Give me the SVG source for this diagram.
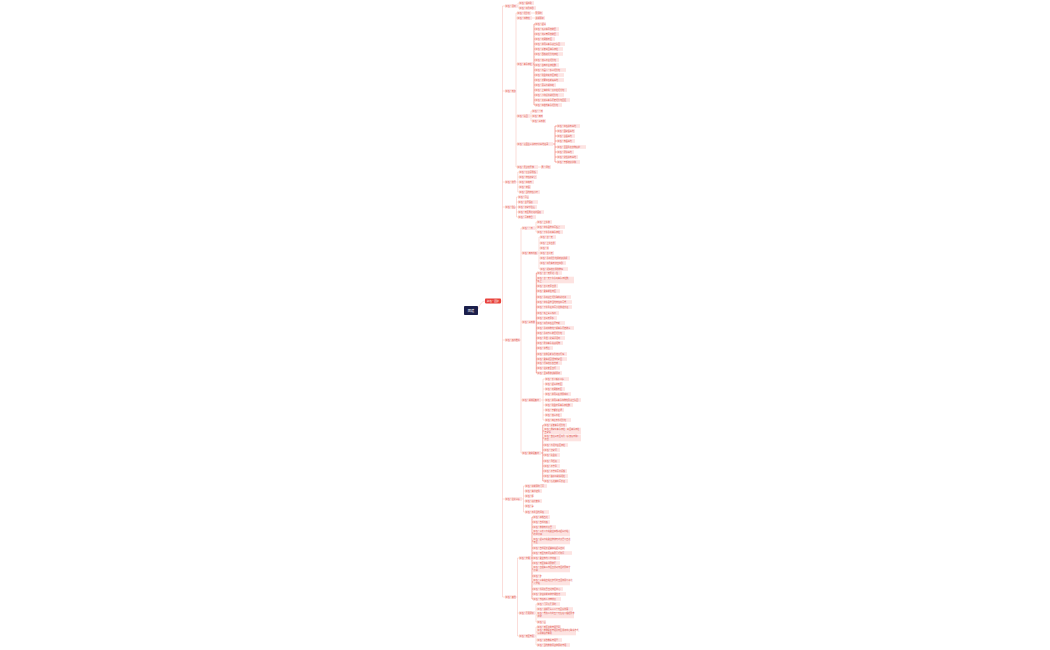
<svg xmlns="http://www.w3.org/2000/svg" width="1050" height="650" viewBox="0 0 1050 650">
<style>
rect{fill:#fde3e1}
text{font-family:"Noto Sans CJK SC","Noto Sans",sans-serif;font-size:2.05px;fill:#e0544c}
.c{fill:none;stroke:#f5b3ad;stroke-width:0.45}
.d{fill:none;stroke:#e8544b;stroke-width:0.5}
rect.root{fill:#1b1f4b}
rect.main{fill:#e8413a}
text.w{fill:#ffffff}
</style>
<rect width="1050" height="650" fill="#ffffff" style="fill:#ffffff"/>
<g id="connectors">
<path class="c" d="M478,309Q481,301 485,301M501,301H502.5M502.5,6V597M502.5,6H505M502.5,91H505M502.5,182H505M502.5,207H505M502.5,340H505M502.5,499H505M502.5,597H505"/>
<path class="c" d="M517,6H518M518,3V8M518,3H519M518,8H519"/>
<path class="c" d="M515,91H516M516,13V167M516,13H517M516,18H517M516,64H517M516,116H517M516,144H517M516,167H517M531,13H535M532,18H535M538,167H541"/>
<path class="d" d="M533,64H534M534,24V105M534,24H535M534,29H535M534,34H535M534,39H535M534,44H535M534,49H535M534,54H535M534,60H535M534,65H535M534,70H535M534,75H535M534,80H535M534,85H535M534,90H535M534,95H535M534,100H535M534,105H535"/>
<path class="c" d="M530,116H531M531,111V121M531,111H532M531,116H532M531,121H532"/>
<path class="d" d="M553,144H555M555,126V162M555,126H557M555,131H557M555,136H557M555,141H557M555,147H557M555,152H557M555,157H557M555,162H557"/>
<path class="c" d="M516,182H517.8M517.8,172V192M517.8,172H519M517.8,177H519M517.8,182H519M517.8,187H519M517.8,192H519"/>
<path class="c" d="M515,207H516.5M516.5,197V217M516.5,197H518M516.5,202H518M516.5,207H518M516.5,212H518M516.5,217H518"/>
<path class="c" d="M520,340H521M521,228V453M521,228H522M521,253H522M521,322H522M521,400H522M521,453H522"/>
<path class="c" d="M535,228H536M536,222V232M536,222H537M536,227H537M536,232H537"/>
<path class="c" d="M538,253H539M539,237V269M539,237H540M539,243H540M539,248H540M539,253H540M539,258H540M539,263H540M539,269H540"/>
<path class="d" d="M535.7,322H536.3M536.3,273V373M536.3,273H537M536.3,280H537M536.3,286H537M536.3,291H537M536.3,297H537M536.3,302H537M536.3,307H537M536.3,313H537M536.3,318H537M536.3,323H537M536.3,328H537M536.3,333H537M536.3,338H537M536.3,343H537M536.3,348H537M536.3,354H537M536.3,359H537M536.3,363H537M536.3,368H537M536.3,373H537"/>
<path class="c" d="M541,400H543M543,379V420M543,379H545M543,384H545M543,389H545M543,394H545M543,400H545M543,405H545M543,410H545M543,415H545M543,420H545"/>
<path class="d" d="M541,453H542.8M542.8,425V481M542.8,425H544M542.8,431H544M542.8,438H544M542.8,445H544M542.8,450H544M542.8,455H544M542.8,461H544M542.8,466H544M542.8,471H544M542.8,476H544M542.8,481H544"/>
<path class="c" d="M522,499H523.5M523.5,486V512M523.5,486H525M523.5,491H525M523.5,496H525M523.5,501H525M523.5,506H525M523.5,512H525"/>
<path class="c" d="M516,597H517.5M517.5,558V636M517.5,558H519M517.5,613H519M517.5,636H519"/>
<path class="d" d="M531,558H532M532,517V599M532,517H533M532,522H533M532,527H533M532,533H533M532,541H533M532,548H533M532,553H533M532,558H533M532,563H533M532,569H533M532,576H533M532,582H533M532,589H533M532,594H533M532,599H533"/>
<path class="c" d="M535,613H536M536,604V622M536,604H537M536,609H537M536,615H537M536,622H537"/>
<path class="c" d="M535,636H536M536,627V645M536,627H537M536,632H537M536,640H537M536,645H537"/>
</g>
<g id="root"><rect class="root" x="464" y="306" width="14" height="9" rx="0.8"/><text class="w" x="471" y="311.6" text-anchor="middle" style="font-size:3.2px">团建</text></g>
<g id="main"><rect class="main" x="485" y="298.6" width="16" height="4.8" rx="0.8"/><text class="w" x="493" y="302.1" text-anchor="middle" style="font-size:2.4px">红色·团建</text></g>
<g id="nA"><rect x="505" y="4.2" width="12" height="3.6"/><text x="505.6" y="6.8">红色·活动</text></g>
<g id="nA1"><rect x="519" y="1.2" width="15" height="3.6"/><text x="519.6" y="3.8">红色·唱红歌</text></g>
<g id="nA2"><rect x="519" y="6.2" width="17" height="3.6"/><text x="519.6" y="8.8">红色·观看红剧</text></g>
<g id="nB"><rect x="505" y="89.2" width="10" height="3.6"/><text x="505.6" y="91.8">红色·景点</text></g>
<g id="nB1"><rect x="517" y="11.2" width="14" height="3.6"/><text x="517.6" y="13.8">红色·纪念馆</text></g>
<g id="nB1a"><rect x="535" y="11.2" width="8" height="3.6"/><text x="535.6" y="13.8">需预约</text></g>
<g id="nB2"><rect x="517" y="16.2" width="15" height="3.6"/><text x="517.6" y="18.8">红色·博物馆</text></g>
<g id="nB2a"><rect x="535" y="16.2" width="10" height="3.6"/><text x="535.6" y="18.8">讲解服务</text></g>
<g id="nB3"><rect x="517" y="62.2" width="16" height="3.6"/><text x="517.6" y="64.8">红色·革命旧址</text></g>
<g id="nB3-1"><rect x="535" y="22.2" width="11" height="3.6"/><text x="535.6" y="24.8">红色·韶山</text></g>
<g id="nB3-2"><rect x="535" y="27.2" width="24" height="3.6"/><text x="535.6" y="29.8">红色·毛泽东同志故居</text></g>
<g id="nB3-3"><rect x="535" y="32.2" width="24" height="3.6"/><text x="535.6" y="34.8">红色·刘少奇同志故居</text></g>
<g id="nB3-4"><rect x="535" y="37.2" width="20" height="3.6"/><text x="535.6" y="39.8">红色·花明楼景区</text></g>
<g id="nB3-5"><rect x="535" y="42.2" width="30" height="3.6"/><text x="535.6" y="44.8">红色·井冈山革命烈士陵园</text></g>
<g id="nB3-6"><rect x="535" y="47.2" width="28" height="3.6"/><text x="535.6" y="49.8">红色·延安枣园革命旧址</text></g>
<g id="nB3-7"><rect x="535" y="52.2" width="28" height="3.6"/><text x="535.6" y="54.8">红色·西柏坡纪念馆旧址</text></g>
<g id="nB3-8"><rect x="535" y="58.2" width="24" height="3.6"/><text x="535.6" y="60.8">红色·遵义会议纪念馆</text></g>
<g id="nB3-9"><rect x="535" y="63.2" width="24" height="3.6"/><text x="535.6" y="65.8">红色·古田会议旧址群</text></g>
<g id="nB3-10"><rect x="535" y="68.2" width="31" height="3.6"/><text x="535.6" y="70.8">红色·南昌八一起义纪念馆</text></g>
<g id="nB3-11"><rect x="535" y="73.2" width="29" height="3.6"/><text x="535.6" y="75.8">红色·瑞金中央苏区旧址</text></g>
<g id="nB3-12"><rect x="535" y="78.2" width="29" height="3.6"/><text x="535.6" y="80.8">红色·沂蒙红色影视基地</text></g>
<g id="nB3-13"><rect x="535" y="83.2" width="21" height="3.6"/><text x="535.6" y="85.8">红色·嘉兴南湖红船</text></g>
<g id="nB3-14"><rect x="535" y="88.2" width="32" height="3.6"/><text x="535.6" y="90.8">红色·上海中共一大会址纪念馆</text></g>
<g id="nB3-15"><rect x="535" y="93.2" width="29" height="3.6"/><text x="535.6" y="95.8">红色·卢沟桥抗战纪念馆</text></g>
<g id="nB3-16"><rect x="535" y="98.2" width="35" height="3.6"/><text x="535.6" y="100.8">红色·大别山革命历史纪念馆园区</text></g>
<g id="nB3-17"><rect x="535" y="103.2" width="27" height="3.6"/><text x="535.6" y="105.8">红色·红岩村革命纪念馆</text></g>
<g id="nB4"><rect x="517" y="114.2" width="13" height="3.6"/><text x="517.6" y="116.8">红色·陵园</text></g>
<g id="nB4-1"><rect x="532" y="109.2" width="11" height="3.6"/><text x="532.6" y="111.8">红色·一日</text></g>
<g id="nB4-2"><rect x="532" y="114.2" width="11" height="3.6"/><text x="532.6" y="116.8">红色·两日</text></g>
<g id="nB4-3"><rect x="532" y="119.2" width="14" height="3.6"/><text x="532.6" y="121.8">红色·三日游</text></g>
<g id="nB5"><rect x="517" y="142.2" width="36" height="3.6"/><text x="517.6" y="144.8">红色·爱国主义教育示范基地名录</text></g>
<g id="nB5-1"><rect x="557" y="124.2" width="23" height="3.6"/><text x="557.6" y="126.8">红色·红色教育基地</text></g>
<g id="nB5-2"><rect x="557" y="129.2" width="18" height="3.6"/><text x="557.6" y="131.8">红色·国家级基地</text></g>
<g id="nB5-3"><rect x="557" y="134.2" width="18" height="3.6"/><text x="557.6" y="136.8">红色·省级基地</text></g>
<g id="nB5-4"><rect x="557" y="139.2" width="18" height="3.6"/><text x="557.6" y="141.8">红色·市级基地</text></g>
<g id="nB5-5"><rect x="557" y="145.2" width="29" height="3.6"/><text x="557.6" y="147.8">红色·全国重点文物保护</text></g>
<g id="nB5-6"><rect x="557" y="150.2" width="17" height="3.6"/><text x="557.6" y="152.8">红色·研学基地</text></g>
<g id="nB5-7"><rect x="557" y="155.2" width="21" height="3.6"/><text x="557.6" y="157.8">红色·党性教育基地</text></g>
<g id="nB5-8"><rect x="557" y="160.2" width="23" height="3.6"/><text x="557.6" y="162.8">红色·干部培训学院</text></g>
<g id="nB6"><rect x="517" y="165.2" width="21" height="3.6"/><text x="517.6" y="167.8">红色·展览馆开放</text></g>
<g id="nB6a"><rect x="541" y="165.2" width="10" height="3.6"/><text x="541.6" y="167.8">周一闭馆</text></g>
<g id="nC"><rect x="505" y="180.2" width="11" height="3.6"/><text x="505.6" y="182.8">红色·饮食</text></g>
<g id="nC1"><rect x="519" y="170.2" width="19" height="3.6"/><text x="519.6" y="172.8">红色·忆苦思甜饭</text></g>
<g id="nC2"><rect x="519" y="175.2" width="18" height="3.6"/><text x="519.6" y="177.8">红色·特色农家菜</text></g>
<g id="nC3"><rect x="519" y="180.2" width="15" height="3.6"/><text x="519.6" y="182.8">红色·红烧肉</text></g>
<g id="nC4"><rect x="519" y="185.2" width="12" height="3.6"/><text x="519.6" y="187.8">红色·米酒</text></g>
<g id="nC5"><rect x="519" y="190.2" width="21" height="3.6"/><text x="519.6" y="192.8">红色·当地特色小吃</text></g>
<g id="nD"><rect x="505" y="205.2" width="10" height="3.6"/><text x="505.6" y="207.8">红色·住宿</text></g>
<g id="nD1"><rect x="518" y="195.2" width="11" height="3.6"/><text x="518.6" y="197.8">红色·民宿</text></g>
<g id="nD2"><rect x="518" y="200.2" width="20" height="3.6"/><text x="518.6" y="202.8">红色·主题酒店</text></g>
<g id="nD3"><rect x="518" y="205.2" width="19" height="3.6"/><text x="518.6" y="207.8">红色·农家乐住宿</text></g>
<g id="nD4"><rect x="518" y="210.2" width="26" height="3.6"/><text x="518.6" y="212.8">红色·景区周边连锁酒店</text></g>
<g id="nD5"><rect x="518" y="215.2" width="18" height="3.6"/><text x="518.6" y="217.8">红色·青年旅舍</text></g>
<g id="nE"><rect x="505" y="338.2" width="15" height="3.6"/><text x="505.6" y="340.8">红色·路线推荐</text></g>
<g id="nE1"><rect x="522" y="226.2" width="13" height="3.6"/><text x="522.6" y="228.8">红色·一日</text></g>
<g id="nE1-1"><rect x="537" y="220.2" width="15" height="3.6"/><text x="537.6" y="222.8">红色·上午游</text></g>
<g id="nE1-2"><rect x="537" y="225.2" width="28" height="3.6"/><text x="537.6" y="227.8">红色·中午品尝红军饭菜</text></g>
<g id="nE1-3"><rect x="537" y="230.2" width="26" height="3.6"/><text x="537.6" y="232.8">红色·下午参观革命旧址</text></g>
<g id="nE2"><rect x="522" y="251.2" width="16" height="3.6"/><text x="522.6" y="253.8">红色·两日线路</text></g>
<g id="nE2-1"><rect x="540" y="235.2" width="16" height="3.6"/><text x="540.6" y="237.8">红色·第一天</text></g>
<g id="nE2-2"><rect x="540" y="241.2" width="16" height="3.6"/><text x="540.6" y="243.8">红色·上午出发</text></g>
<g id="nE2-3"><rect x="540" y="246.2" width="9" height="3.6"/><text x="540.6" y="248.8">红色·午</text></g>
<g id="nE2-4"><rect x="540" y="251.2" width="14" height="3.6"/><text x="540.6" y="253.8">红色·第二天</text></g>
<g id="nE2-5"><rect x="540" y="256.2" width="30" height="3.6"/><text x="540.6" y="258.8">红色·参观纪念馆并听取讲解</text></g>
<g id="nE2-6"><rect x="540" y="261.2" width="26" height="3.6"/><text x="540.6" y="263.8">红色·观看实景演出红剧</text></g>
<g id="nE2-7"><rect x="540" y="267.2" width="28" height="3.6"/><text x="540.6" y="269.8">红色·返程结束愉快旅程</text></g>
<g id="nE3"><rect x="522" y="320.2" width="13.7" height="3.6"/><text x="522.6" y="322.8">红色·三日游</text></g>
<g id="nE3-1"><rect x="537" y="271.2" width="25" height="3.6"/><text x="537.6" y="273.8">红色·第一天抵达入住</text></g>
<g id="nE3-2"><rect x="537" y="276.7" width="37" height="6.6"/><text x="537.6" y="279.4">红色·第一天下午参观革命旧址群，<tspan x="537.6" y="282.2">晚上</tspan></text></g>
<g id="nE3-3"><rect x="537" y="284.2" width="21" height="3.6"/><text x="537.6" y="286.8">红色·第二天早出发</text></g>
<g id="nE3-4"><rect x="537" y="289.2" width="23" height="3.6"/><text x="537.6" y="291.8">红色·乘车前往景区</text></g>
<g id="nE3-5"><rect x="537" y="295.2" width="34" height="3.6"/><text x="537.6" y="297.8">红色·参观烈士纪念碑敬献花篮</text></g>
<g id="nE3-6"><rect x="537" y="300.2" width="35" height="3.6"/><text x="537.6" y="302.8">红色·中午品尝当地特色红军餐</text></g>
<g id="nE3-7"><rect x="537" y="305.2" width="35" height="3.6"/><text x="537.6" y="307.8">红色·下午重走红军小道体验长征</text></g>
<g id="nE3-8"><rect x="537" y="311.2" width="22" height="3.6"/><text x="537.6" y="313.8">红色·晚上篝火晚会</text></g>
<g id="nE3-9"><rect x="537" y="316.2" width="20" height="3.6"/><text x="537.6" y="318.8">红色·第三天早起</text></g>
<g id="nE3-10"><rect x="537" y="321.2" width="28" height="3.6"/><text x="537.6" y="323.8">红色·观看红色主题电影</text></g>
<g id="nE3-11"><rect x="537" y="326.2" width="37" height="3.6"/><text x="537.6" y="328.8">红色·参观博物馆了解革命历史故事</text></g>
<g id="nE3-12"><rect x="537" y="331.2" width="28" height="3.6"/><text x="537.6" y="333.8">红色·参观伟人故居纪念馆</text></g>
<g id="nE3-13"><rect x="537" y="336.2" width="28" height="3.6"/><text x="537.6" y="338.8">红色·重温入党誓词活动</text></g>
<g id="nE3-14"><rect x="537" y="341.2" width="26" height="3.6"/><text x="537.6" y="343.8">红色·瞻仰革命先烈遗物</text></g>
<g id="nE3-15"><rect x="537" y="346.2" width="16" height="3.6"/><text x="537.6" y="348.8">红色·午餐后</text></g>
<g id="nE3-16"><rect x="537" y="352.2" width="30" height="3.6"/><text x="537.6" y="354.8">红色·集体合影留念结束行程</text></g>
<g id="nE3-17"><rect x="537" y="357.2" width="30" height="3.6"/><text x="537.6" y="359.8">红色·乘车返回温馨的家园</text></g>
<g id="nE3-18"><rect x="537" y="361.2" width="25" height="3.6"/><text x="537.6" y="363.8">红色·行程结束各自散</text></g>
<g id="nE3-19"><rect x="537" y="366.2" width="23" height="3.6"/><text x="537.6" y="368.8">红色·注意安全出行</text></g>
<g id="nE3-20"><rect x="537" y="371.2" width="25" height="3.6"/><text x="537.6" y="373.8">红色·全程导游讲解服务</text></g>
<g id="nE4"><rect x="522" y="398.2" width="19" height="3.6"/><text x="522.6" y="400.8">红色·湖湘经典线</text></g>
<g id="nE4-1"><rect x="545" y="377.2" width="24" height="3.6"/><text x="545.6" y="379.8">红色·长沙橘子洲头</text></g>
<g id="nE4-2"><rect x="545" y="382.2" width="18" height="3.6"/><text x="545.6" y="384.8">红色·韶山冲景区</text></g>
<g id="nE4-3"><rect x="545" y="387.2" width="20" height="3.6"/><text x="545.6" y="389.8">红色·花明楼景区</text></g>
<g id="nE4-4"><rect x="545" y="392.2" width="26" height="3.6"/><text x="545.6" y="394.8">红色·井冈山黄洋界哨口</text></g>
<g id="nE4-5"><rect x="545" y="398.2" width="36" height="3.6"/><text x="545.6" y="400.8">红色·井冈山革命博物馆及烈士陵园</text></g>
<g id="nE4-6"><rect x="545" y="403.2" width="28" height="3.6"/><text x="545.6" y="405.8">红色·瑞金叶坪革命旧址群</text></g>
<g id="nE4-7"><rect x="545" y="408.2" width="19" height="3.6"/><text x="545.6" y="410.8">红色·于都长征源</text></g>
<g id="nE4-8"><rect x="545" y="413.2" width="17" height="3.6"/><text x="545.6" y="415.8">红色·遵义会址</text></g>
<g id="nE4-9"><rect x="545" y="418.2" width="26" height="3.6"/><text x="545.6" y="420.8">红色·四渡赤水纪念馆</text></g>
<g id="nE5"><rect x="522" y="451.2" width="19" height="3.6"/><text x="522.6" y="453.8">红色·陕甘经典线</text></g>
<g id="nE5-1"><rect x="544" y="423.2" width="23" height="3.6"/><text x="544.6" y="425.8">红色·延安革命纪念馆</text></g>
<g id="nE5-2"><rect x="544" y="427.7" width="37" height="6.6"/><text x="544.6" y="430.4">红色·杨家岭革命旧址、枣园革命旧址、<tspan x="544.6" y="433.2">王家坪</tspan></text></g>
<g id="nE5-3"><rect x="544" y="434.7" width="37" height="6.6"/><text x="544.6" y="437.4">红色·宝塔山景区观看《延安保育院》<tspan x="544.6" y="440.2">演出</tspan></text></g>
<g id="nE5-4"><rect x="544" y="443.2" width="24" height="3.6"/><text x="544.6" y="445.8">红色·南泥湾垦区旧址</text></g>
<g id="nE5-5"><rect x="544" y="448.2" width="16" height="3.6"/><text x="544.6" y="450.8">红色·梁家河</text></g>
<g id="nE5-6"><rect x="544" y="453.2" width="16" height="3.6"/><text x="544.6" y="455.8">红色·照金镇</text></g>
<g id="nE5-7"><rect x="544" y="459.2" width="16" height="3.6"/><text x="544.6" y="461.8">红色·马栏镇</text></g>
<g id="nE5-8"><rect x="544" y="464.2" width="16" height="3.6"/><text x="544.6" y="466.8">红色·会宁县</text></g>
<g id="nE5-9"><rect x="544" y="469.2" width="23" height="3.6"/><text x="544.6" y="471.8">红色·会宁红军会师楼</text></g>
<g id="nE5-10"><rect x="544" y="474.2" width="24" height="3.6"/><text x="544.6" y="476.8">红色·腊子口战役遗址</text></g>
<g id="nE5-11"><rect x="544" y="479.2" width="24" height="3.6"/><text x="544.6" y="481.8">红色·哈达铺红军长征</text></g>
<g id="nF"><rect x="505" y="497.2" width="17" height="3.6"/><text x="505.6" y="499.8">红色·注意事项</text></g>
<g id="nF1"><rect x="525" y="484.2" width="22" height="3.6"/><text x="525.6" y="486.8">红色·提前预约门票</text></g>
<g id="nF2"><rect x="525" y="489.2" width="17" height="3.6"/><text x="525.6" y="491.8">红色·携带证件</text></g>
<g id="nF3"><rect x="525" y="494.2" width="8" height="3.6"/><text x="525.6" y="496.8">红色·帽</text></g>
<g id="nF4"><rect x="525" y="499.2" width="17" height="3.6"/><text x="525.6" y="501.8">红色·保持安静</text></g>
<g id="nF5"><rect x="525" y="504.2" width="8" height="3.6"/><text x="525.6" y="506.8">红色·伞</text></g>
<g id="nF6"><rect x="525" y="510.2" width="24" height="3.6"/><text x="525.6" y="512.8">红色·尊重当地风俗</text></g>
<g id="nG"><rect x="505" y="595.2" width="11" height="3.6"/><text x="505.6" y="597.8">红色·其他</text></g>
<g id="nG1"><rect x="519" y="556.2" width="12" height="3.6"/><text x="519.6" y="558.8">红色·交通</text></g>
<g id="nG1-1"><rect x="533" y="515.2" width="17" height="3.6"/><text x="533.6" y="517.8">红色·高铁直达</text></g>
<g id="nG1-2"><rect x="533" y="520.2" width="17" height="3.6"/><text x="533.6" y="522.8">红色·自驾线路</text></g>
<g id="nG1-3"><rect x="533" y="525.2" width="23" height="3.6"/><text x="533.6" y="527.8">红色·旅游专线大巴</text></g>
<g id="nG1-4"><rect x="533" y="529.7" width="37" height="6.6"/><text x="533.6" y="532.4">红色·从长沙南站乘坐高铁到韶山南站，<tspan x="533.6" y="535.2">约30分钟</tspan></text></g>
<g id="nG1-5"><rect x="533" y="537.7" width="37" height="6.6"/><text x="533.6" y="540.4">红色·韶山南站乘坐旅游专线大巴可直达<tspan x="533.6" y="543.2">景区</tspan></text></g>
<g id="nG1-6"><rect x="533" y="546.2" width="32" height="3.6"/><text x="533.6" y="548.8">红色·自驾经长韶娄高速韶山出口</text></g>
<g id="nG1-7"><rect x="533" y="551.2" width="39" height="3.6"/><text x="533.6" y="553.8">红色·景区内有环保车需另行购票</text></g>
<g id="nG1-8"><rect x="533" y="556.2" width="27" height="3.6"/><text x="533.6" y="558.8">红色·乘坐市内公交线路</text></g>
<g id="nG1-9"><rect x="533" y="561.2" width="27" height="3.6"/><text x="533.6" y="563.8">红色·景区停车场需收费</text></g>
<g id="nG1-10"><rect x="533" y="565.7" width="37" height="6.6"/><text x="533.6" y="568.4">红色·出租车从市区出发到景区约需四十<tspan x="533.6" y="571.2">分钟</tspan></text></g>
<g id="nG1-11"><rect x="533" y="574.2" width="8" height="3.6"/><text x="533.6" y="576.8">红色·步</text></g>
<g id="nG1-12"><rect x="533" y="578.7" width="37" height="6.6"/><text x="533.6" y="581.4">红色·火车站出站后步行约五百米即可到达<tspan x="533.6" y="584.2">公交站</tspan></text></g>
<g id="nG1-13"><rect x="533" y="587.2" width="30" height="3.6"/><text x="533.6" y="589.8">红色·机场大巴直达市区中心</text></g>
<g id="nG1-14"><rect x="533" y="592.2" width="33" height="3.6"/><text x="533.6" y="594.8">红色·建议提前查询交通信息</text></g>
<g id="nG1-15"><rect x="533" y="597.2" width="28" height="3.6"/><text x="533.6" y="599.8">红色·节假日人流量较大</text></g>
<g id="nG2"><rect x="519" y="611.2" width="16" height="3.6"/><text x="519.6" y="613.8">红色·费用预算</text></g>
<g id="nG2-1"><rect x="537" y="602.2" width="23" height="3.6"/><text x="537.6" y="604.8">红色·门票免费预约</text></g>
<g id="nG2-2"><rect x="537" y="607.2" width="36" height="3.6"/><text x="537.6" y="609.8">红色·讲解费每人二十元团队优惠</text></g>
<g id="nG2-3"><rect x="537" y="611.7" width="37" height="6.6"/><text x="537.6" y="614.4">红色·餐饮人均约五十元左右可根据需求<tspan x="537.6" y="617.2">调整</tspan></text></g>
<g id="nG2-4"><rect x="537" y="620.2" width="9" height="3.6"/><text x="537.6" y="622.8">红色·宿</text></g>
<g id="nG3"><rect x="519" y="634.2" width="16" height="3.6"/><text x="519.6" y="636.8">红色·景区电话</text></g>
<g id="nG3-1"><rect x="537" y="625.2" width="24" height="3.6"/><text x="537.6" y="627.8">红色·景区咨询电话号码</text></g>
<g id="nG3-2"><rect x="537" y="628.7" width="39" height="6.6"/><text x="537.6" y="631.4">红色·旅游投诉电话及景区服务中心联系方式，<tspan x="537.6" y="634.2">请提前保存备用</tspan></text></g>
<g id="nG3-3"><rect x="537" y="638.2" width="25" height="3.6"/><text x="537.6" y="640.8">红色·紧急救援电话号</text></g>
<g id="nG3-4"><rect x="537" y="643.2" width="33" height="3.6"/><text x="537.6" y="645.8">红色·当地旅游局咨询服务电话</text></g>
</svg>
